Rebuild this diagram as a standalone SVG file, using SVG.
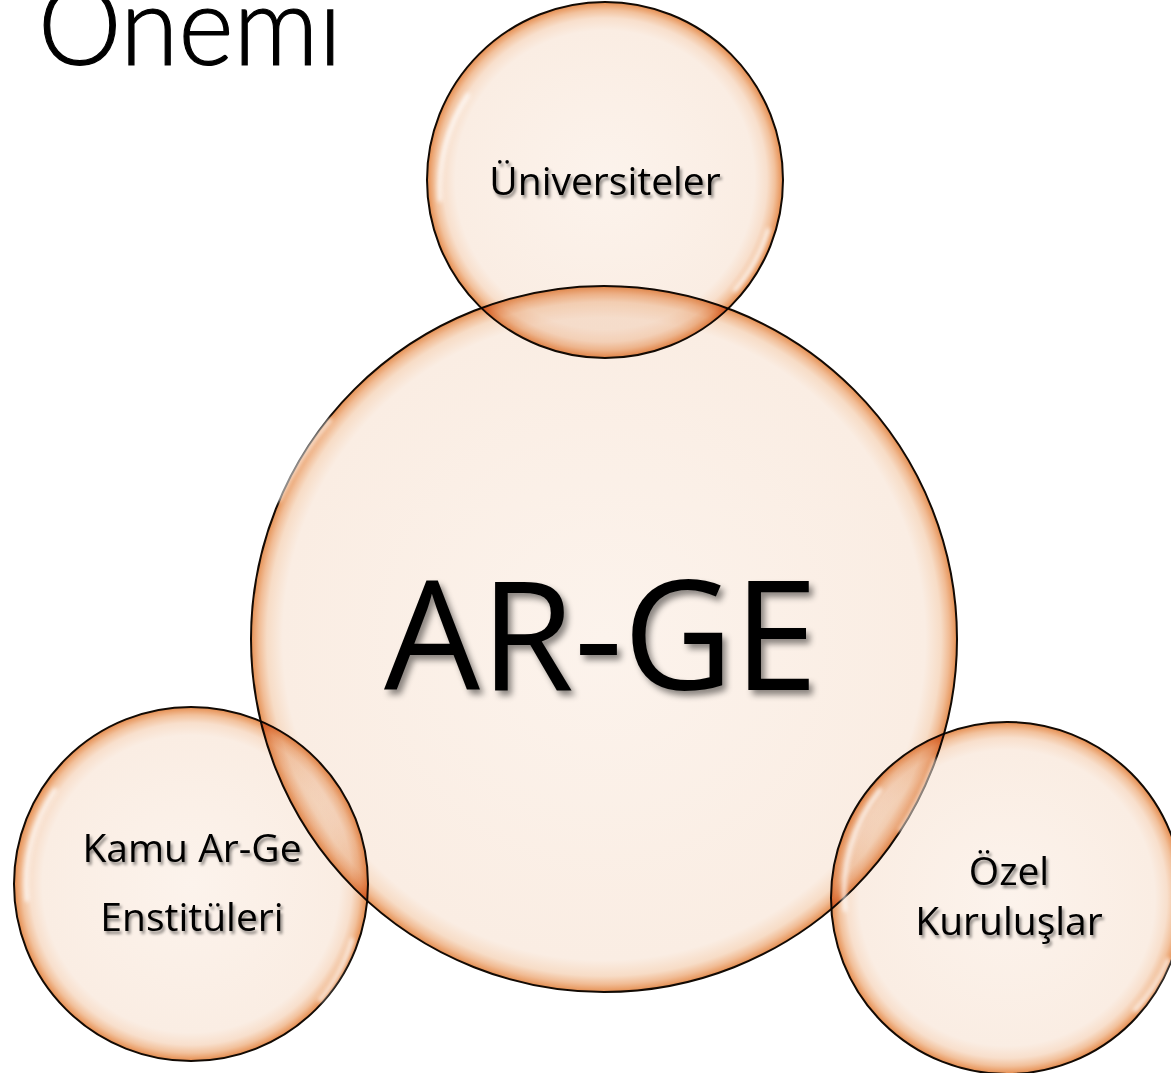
<svg xmlns="http://www.w3.org/2000/svg" width="1171" height="1073" viewBox="0 0 1171 1073">
<style>
.bub{mix-blend-mode:multiply;stroke:#120a04;stroke-width:2}
.sm{fill:url(#gSmall)}
.big{fill:url(#gBig)}
.hl{fill:none;stroke:#ffffff;stroke-linecap:round;filter:url(#blur);opacity:0.85}
.lbl{font-family:"Open Sans","Noto Sans","Liberation Sans",sans-serif;font-size:39px;fill:#000;text-anchor:middle;filter:url(#sh)}
.main{font-family:"Open Sans","Noto Sans","Liberation Sans",sans-serif;font-size:152px;fill:#000;text-anchor:middle;filter:url(#shBig)}
.title{font-family:"Lato","Open Sans","Liberation Sans",sans-serif;font-weight:300;font-size:110px;fill:#000;stroke:#000;stroke-width:1.2}
</style>
<defs>
<radialGradient id="gSmall" cx="50%" cy="50%" r="50%">
<stop offset="0" stop-color="#FCF3EC"/>
<stop offset="0.84" stop-color="#FAEDE3"/>
<stop offset="0.91" stop-color="#F8DFCC"/>
<stop offset="0.955" stop-color="#F2C19C"/>
<stop offset="0.985" stop-color="#EA9E68"/>
<stop offset="1" stop-color="#E0884C"/>
</radialGradient>
<radialGradient id="gBig" cx="50%" cy="50%" r="50%">
<stop offset="0" stop-color="#FCF3EC"/>
<stop offset="0.91" stop-color="#FAEDE3"/>
<stop offset="0.955" stop-color="#F7DCC6"/>
<stop offset="0.978" stop-color="#F1BC95"/>
<stop offset="0.993" stop-color="#E99E68"/>
<stop offset="1" stop-color="#E0884C"/>
</radialGradient>
<filter id="blur" x="-20%" y="-20%" width="140%" height="140%"><feGaussianBlur stdDeviation="2"/></filter>
<filter id="sh" x="-10%" y="-30%" width="120%" height="160%"><feDropShadow dx="2" dy="3" stdDeviation="1.8" flood-color="#000" flood-opacity="0.45"/></filter>
<filter id="shBig" x="-10%" y="-20%" width="120%" height="140%"><feDropShadow dx="4" dy="5" stdDeviation="3" flood-color="#000" flood-opacity="0.45"/></filter>
</defs>
<rect width="1171" height="1073" fill="#ffffff"/>
<g id="title"><text class="title" x="38" y="65" textLength="304" lengthAdjust="spacingAndGlyphs">Önemi</text></g>
<g id="node-arge">
<circle class="bub big" cx="604" cy="639" r="353"/>
<path class="hl" stroke-width="4" d="M 279 500 A 340 340 0 0 1 330 420"/>
<path class="hl" stroke-width="4" d="M 935 760 A 340 340 0 0 1 900 830"/>
</g>
<g id="node-universiteler">
<circle class="bub sm" cx="605" cy="180" r="178"/>
<path class="hl" stroke-width="4" d="M 440 200 A 166 166 0 0 1 468 95"/>
<path class="hl" stroke-width="4" d="M 768 230 A 166 166 0 0 1 735 290"/>
</g>
<g id="node-kamu">
<circle class="bub sm" cx="191" cy="884" r="177"/>
<path class="hl" stroke-width="4" d="M 27 900 A 165 165 0 0 1 55 790"/>
<path class="hl" stroke-width="4" d="M 352 940 A 165 165 0 0 1 320 1000"/>
</g>
<g id="node-ozel">
<circle class="bub sm" cx="1007" cy="898" r="176"/>
<path class="hl" stroke-width="4" d="M 845 910 A 164 164 0 0 1 880 790"/>
<path class="hl" stroke-width="4" d="M 1168 960 A 164 164 0 0 1 1135 1010"/>
</g>
<g id="labels">
<text class="main" x="601" y="690">AR-GE</text>
<text class="lbl" x="605" y="195">Üniversiteler</text>
<text class="lbl" x="192" y="862">Kamu Ar-Ge</text>
<text class="lbl" x="192" y="931">Enstitüleri</text>
<text class="lbl" x="1009" y="885">Özel</text>
<text class="lbl" x="1009" y="935">Kuruluşlar</text>
</g>
</svg>
